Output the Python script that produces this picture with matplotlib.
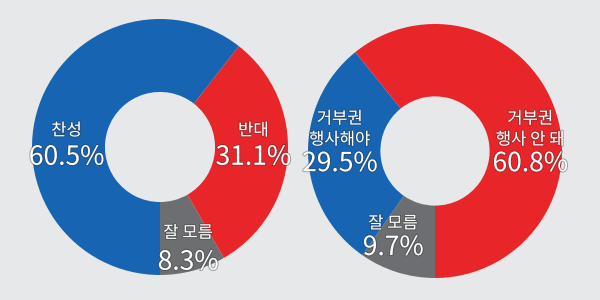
import matplotlib.pyplot as plt
import matplotlib.patheffects as pe

plt.rcParams['font.family'] = ['Noto Sans CJK KR', 'DejaVu Sans']

# 왼쪽: 찬성/반대 (order: from bottom, counterclockwise)
left_labels = ['잘 모름', '반대', '찬성']
left_values = [8.3, 31.1, 60.5]
left_colors = ['#6d6e71', '#e8262a', '#1764b2']

# 오른쪽: 거부권 (order: from bottom, clockwise)
right_labels = ['잘 모름', '거부권\n행사해야', '거부권\n행사 안 돼']
right_values = [9.7, 29.5, 60.8]
right_colors = ['#6d6e71', '#1764b2', '#e8262a']

# label positions in pie coordinates: (x, value centre y, label bottom y)
left_pos = [(0.22, -0.90, -0.74), (0.73, -0.08, 0.06), (-0.73, -0.08, 0.06)]
right_pos = [(-0.33, -0.76, -0.64), (-0.75, -0.10, 0.02), (0.75, -0.10, 0.02)]

bg = '#e7e8ea'
fig = plt.figure(figsize=(6, 3), dpi=100, facecolor=bg)

stroke = [pe.withStroke(linewidth=1.4, foreground='#333333', alpha=0.4)]


def donut(rect, labels, values, colors, pos, counterclock):
    ax = fig.add_axes(rect)
    ax.set_facecolor(bg)
    ax.pie(values, colors=colors, startangle=270, counterclock=counterclock,
           radius=1, wedgeprops=dict(width=0.57, linewidth=0))
    ax.set_xlim(-1, 1)
    ax.set_ylim(-1, 1)
    ax.set_aspect('equal')
    ax.axis('off')
    for lab, val, (x, yv, yl) in zip(labels, values, pos):
        ax.text(x, yl, lab, ha='center', va='bottom', color='white',
                fontsize=12, fontweight='medium', linespacing=1.3,
                path_effects=stroke)
        ax.text(x, yv, '%.1f%%' % val, ha='center', va='center', color='white',
                fontsize=19, fontweight='medium', path_effects=stroke)
    return ax


donut([(160 - 128) / 600, (300 - 147 - 128) / 300, 256 / 600, 256 / 300],
      left_labels, left_values, left_colors, left_pos, True)
donut([(435 - 127) / 600, (300 - 151 - 127) / 300, 254 / 600, 254 / 300],
      right_labels, right_values, right_colors, right_pos, False)

fig.savefig('out.png', dpi=100, facecolor=bg)
